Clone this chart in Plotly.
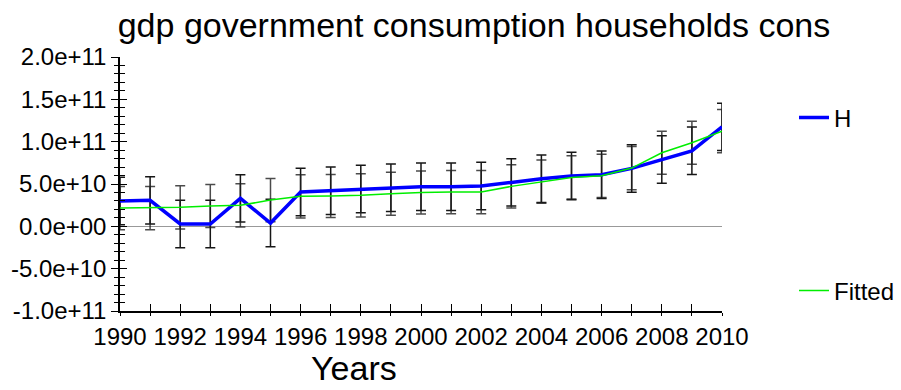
import plotly.graph_objects as go

years = list(range(1990, 2011))

# H series and fitted values
h_vals = [2.99e10, 3.07e10, 0.28e10, 0.28e10, 3.30e10, 0.39e10, 4.05e10, 4.20e10, 4.40e10, 4.56e10,
          4.68e10, 4.68e10, 4.76e10, 5.19e10, 5.62e10, 5.94e10, 6.09e10, 6.84e10, 7.90e10, 8.92e10,
          11.75e10]
fit_vals = [2.16e10, 2.16e10, 2.24e10, 2.40e10, 2.48e10, 3.10e10, 3.54e10, 3.58e10, 3.66e10, 3.85e10,
            4.00e10, 4.05e10, 4.05e10, 4.72e10, 5.27e10, 5.78e10, 5.97e10, 6.88e10, 8.69e10, 9.87e10,
            11.24e10]
h_err = 2.8e10
fit_err = 2.55e10

y_ticks = [-1e11, -5e10, 0, 5e10, 1e11, 1.5e11, 2e11]
y_ticktext = [f"{v:.1e}" for v in y_ticks]
x_ticktext = [str(y) if y % 2 == 0 else "" for y in years]

font = "Liberation Sans, Arial, sans-serif"

fig = go.Figure()

# error bars drawn first so the lines sit on top
fig.add_trace(go.Scatter(
    x=years, y=h_vals, mode="markers", marker=dict(size=0, color="rgba(0,0,0,0)"),
    error_y=dict(type="constant", value=h_err, color="rgba(10,10,10,0.95)", thickness=1.5, width=5),
    showlegend=False, hoverinfo="skip"))
fig.add_trace(go.Scatter(
    x=years, y=fit_vals, mode="markers", marker=dict(size=0, color="rgba(0,0,0,0)"),
    error_y=dict(type="constant", value=fit_err, color="rgba(30,30,30,0.8)", thickness=1.5, width=5),
    showlegend=False, hoverinfo="skip"))

fig.add_trace(go.Scatter(x=years, y=h_vals, mode="lines", name="H",
                         line=dict(color="#0000ff", width=3.5), legend="legend"))
fig.add_trace(go.Scatter(x=years, y=fit_vals, mode="lines", name="Fitted",
                         line=dict(color="#00ee00", width=1.5), legend="legend2"))

# invisible trace on the overlay axes (for ticks that cross the axis line)
fig.add_trace(go.Scatter(x=[years[0]], y=[0], xaxis="x2", yaxis="y2", mode="markers",
                         marker=dict(size=0, color="rgba(0,0,0,0)"), showlegend=False,
                         hoverinfo="skip"))

leg = dict(xref="container", yref="container", xanchor="left", yanchor="middle",
           bgcolor="rgba(0,0,0,0)", font=dict(family=font, size=24, color="black"))

fig.update_layout(
    width=901, height=390,
    paper_bgcolor="white", plot_bgcolor="white",
    margin=dict(l=120, r=179, t=57, b=79, autoexpand=False),
    font=dict(family=font, size=24, color="black"),
    title=dict(text="gdp government consumption households cons", x=474 / 901, xref="container",
               xanchor="center", y=1 - 25 / 390, yanchor="middle",
               font=dict(family=font, size=34, color="black")),
    xaxis=dict(range=[1990, 2010], tickmode="array", tickvals=years, ticktext=x_ticktext,
               ticks="outside", ticklen=3, tickwidth=1, tickcolor="black", automargin=False,
               showline=True, linecolor="black", linewidth=1.5, showgrid=False, zeroline=False,
               tickfont=dict(size=24)),
    yaxis=dict(range=[-1e11, 2e11], tickmode="array", tickvals=y_ticks, ticktext=y_ticktext,
               ticks="outside", ticklen=7, tickwidth=1, tickcolor="black", automargin=False,
               minor=dict(dtick=1e10, ticks="outside", ticklen=4, tickcolor="black", tickwidth=1),
               showline=True, linecolor="black", linewidth=1.5, showgrid=False,
               zeroline=True, zerolinecolor="#999999", zerolinewidth=1,
               tickfont=dict(size=24)),
    xaxis2=dict(range=[1990, 2010], overlaying="x", tickmode="array", tickvals=years,
                ticks="inside", ticklen=7, tickwidth=1, tickcolor="black", automargin=False,
                showticklabels=False, showgrid=False, zeroline=False, showline=False),
    yaxis2=dict(range=[-1e11, 2e11], overlaying="y", tickmode="array", tickvals=y_ticks,
                ticks="inside", ticklen=7, tickwidth=1, tickcolor="black", automargin=False,
                minor=dict(dtick=1e10, ticks="inside", ticklen=5, tickcolor="black", tickwidth=1),
                showticklabels=False, showgrid=False, zeroline=False, showline=False),
    legend=dict(leg, x=794 / 901, y=1 - 118 / 390),
    legend2=dict(leg, x=794 / 901, y=1 - 291 / 390),
    annotations=[dict(text="Years", xref="paper", yref="paper", x=(354 - 120) / 602,
                      y=-(368 - 311) / 254, xanchor="center", yanchor="middle",
                      showarrow=False, font=dict(family=font, size=34, color="black"))],
)

# drop the browser's default body margin so the figure sits at the page corner
fig.write_html("out.html", config={"displayModeBar": False},
               post_script="document.body.style.margin='0';")
